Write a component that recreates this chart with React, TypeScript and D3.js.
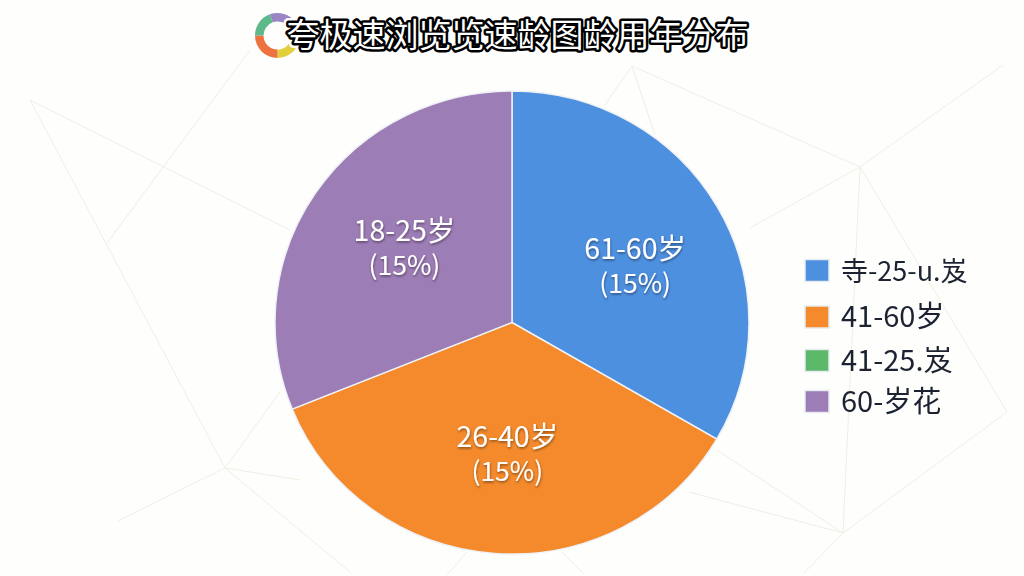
import React from 'react';
import * as d3 from 'd3';

const titleText = '夸极速浏览览速龄图龄用年分布';

// pie slices, clockwise from 12 o'clock
const sliceNames = ['61-60岁', '26-40岁', '18-25岁'];
const sliceShares = [33.4, 35.5, 31.1];
const sliceLabels = ['(15%)', '(15%)', '(15%)'];
const sliceColors = ['#4e90e0', '#f48a2c', '#9d7db5'];

const legendNames = ['寺-25-u.岌', '41-60岁', '41-25.岌', '60-岁花'];
const legendColors = ['#4e90e0', '#f48a2c', '#5cb96a', '#9d7db5'];

// logo ring
const logoShares = [81, 90, 70, 74];
const logoColors = ['#e2cf3c', '#ee7140', '#5db98a', '#9b86c4'];

// faint web in the background
const webLines: [number, number][][] = [
  [[30, 100], [290, 230]],
  [[30, 100], [225, 468]],
  [[107, 243], [250, 50]],
  [[225, 468], [118, 521]],
  [[225, 468], [300, 480]],
  [[225, 468], [280, 392]],
  [[225, 468], [350, 572]],
  [[632, 66], [860, 167]],
  [[632, 66], [605, 105]],
  [[632, 66], [655, 135]],
  [[860, 167], [1003, 65]],
  [[860, 167], [750, 228]],
  [[860, 167], [1007, 412]],
  [[860, 167], [843, 533]],
  [[1007, 412], [843, 533]],
  [[843, 533], [717, 450]],
  [[843, 533], [689, 492]],
  [[843, 533], [804, 573]],
  [[562, 552], [585, 575]],
  [[467, 552], [447, 575]],
];

const cx = 512;
const cy = 322.5;
const radius = 237;
const squash = 0.977; // the pie is a touch flatter than a circle
const labelRadius = 134;
const labelNudge = [[7, 11], [5, -1], [3.5, 1]];
const legendRowY = [270.5, 317, 360.5, 401.5];
const legendFontSize = [27, 29, 29, 29];

const cjk = '"Noto Sans CJK SC", "Noto Sans", sans-serif';

const App: React.FC = () => {
  const pie = d3.pie<number>().sort(null);
  const arc = d3.arc<d3.PieArcDatum<number>>().innerRadius(0).outerRadius(radius);
  const labelArc = d3.arc<d3.PieArcDatum<number>>().innerRadius(labelRadius).outerRadius(labelRadius);
  const logoArc = d3.arc<d3.PieArcDatum<number>>().innerRadius(14).outerRadius(22.5);
  const logoPie = d3.pie<number>().sort(null).startAngle(Math.PI * 0.55).endAngle(Math.PI * 2.3);
  const webPath = d3.line();

  return (
    <svg
      width="1024"
      height="576"
      viewBox="0 0 1024 576"
      style={{ position: 'absolute', left: 0, top: 0, background: '#fefefd' }}
    >
      <defs>
        <filter id="labelShadow" x="-20%" y="-20%" width="140%" height="150%">
          <feGaussianBlur in="SourceGraphic" stdDeviation="0.3" result="body" />
          <feDropShadow in="body" dx="0.5" dy="1.5" stdDeviation="1" floodColor="#000" floodOpacity="0.45" />
        </filter>
        <filter id="soft" x="-5%" y="-5%" width="110%" height="110%">
          <feGaussianBlur stdDeviation="0.4" />
        </filter>
      </defs>

      {/* Background lines */}
      <g fill="none" stroke="#efefe2" strokeWidth="1">
        {webLines.map((pts, i) => (
          <path key={`web-${i}`} d={webPath(pts) ?? ''} />
        ))}
      </g>

      {/* Logo */}
      <g transform="translate(277.5,35.5)">
        {logoPie(logoShares).map((d, i) => (
          <path key={`logo-${i}`} d={logoArc(d) ?? ''} fill={logoColors[i]} />
        ))}
      </g>

      {/* Title */}
      <g fontFamily={cjk} fontSize="33" textAnchor="middle">
        <text x="517.5" y="47" fill="#fff" stroke="#fff" strokeWidth="10" strokeLinejoin="round">{titleText}</text>
        <text x="517.5" y="47" fill="#000" stroke="#000" strokeWidth="5" strokeLinejoin="round">{titleText}</text>
        <text x="517.5" y="47" fill="#fff">{titleText}</text>
      </g>

      {/* Pie */}
      <g transform={`translate(${cx},${cy}) scale(1,${squash})`}>
        {pie(sliceShares).map((d, i) => (
          <path key={`slice-${i}`} d={arc(d) ?? ''} fill={sliceColors[i]} stroke="#eef1f5" strokeWidth="1.5" />
        ))}
      </g>
      <g transform={`translate(${cx},${cy})`}>
        {pie(sliceShares).map((d, i) => {
          const [x, y] = labelArc.centroid(d);
          const lx = x + labelNudge[i][0];
          const ly = y + labelNudge[i][1];
          return (
            <g key={`label-${i}`} fontFamily={cjk} fill="#fff" textAnchor="middle" filter="url(#labelShadow)">
              <text x={lx} y={ly - 8} fontSize="28.5">{sliceNames[i]}</text>
              <text x={lx} y={ly + 26} fontSize="26.5">{sliceLabels[i]}</text>
            </g>
          );
        })}
      </g>

      {/* Legend */}
      {legendNames.map((name, i) => (
        <g key={`legend-${i}`} transform={`translate(0,${legendRowY[i]})`}>
          <rect x="805" y="-11" width="24" height="22" fill={legendColors[i]} stroke="#e8ebf0" strokeWidth="1.5" />
          <text x="841" y="10" fontFamily={cjk} fontSize={legendFontSize[i]} fill="#1b2430" filter="url(#soft)">{name}</text>
        </g>
      ))}
    </svg>
  );
};

export default App;
